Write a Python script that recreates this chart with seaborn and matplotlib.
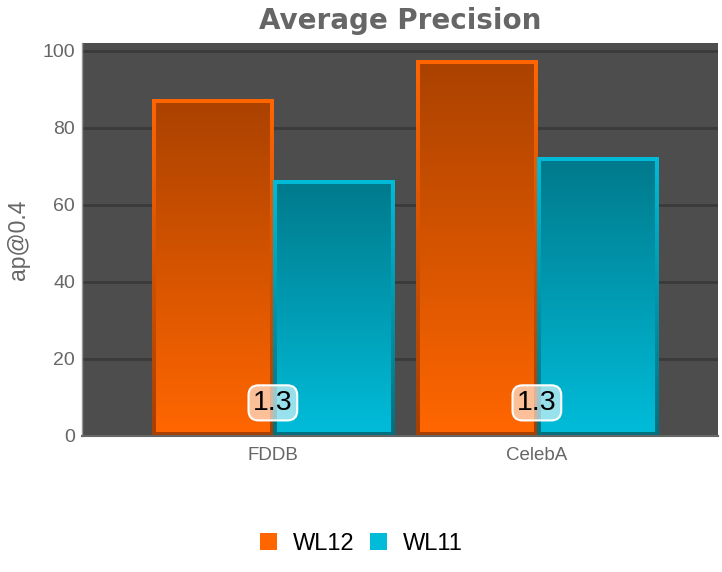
import numpy as np
import pandas as pd
import matplotlib
matplotlib.use("Agg")
import matplotlib.pyplot as plt
from matplotlib.patches import Rectangle, Patch
from matplotlib.colors import LinearSegmentedColormap
import seaborn as sns

categories = ["FDDB", "CelebA"]
series = ["WL12", "WL11"]
wl12 = [87, 97]
wl11 = [66, 72]
group_labels = ["1.3", "1.3"]
label_y = 8.6

sns.set_theme(style="white")
plt.rcParams["font.family"] = ["Liberation Sans", "DejaVu Sans"]

df = pd.DataFrame({
    "dataset": categories * 2,
    "series": [series[0]] * 2 + [series[1]] * 2,
    "value": wl12 + wl11,
})

base = {"WL12": "#ff6600", "WL11": "#00bcd8"}
fill_grad = {"WL12": ("#ab4200", "#ff6600"), "WL11": ("#007a8c", "#00bcd9")}
edge_grad = {"WL12": ("#ff6600", "#a63f00"), "WL11": ("#00bcd9", "#00707f")}

fig = plt.figure(figsize=(7.22, 5.72), dpi=100)
ax = fig.add_axes([82 / 722, 1 - 436 / 572, (718 - 82) / 722, (436 - 43) / 572])
ax.set_facecolor("#4d4d4d")

sns.barplot(data=df, x="dataset", y="value", hue="series", palette=base,
            width=0.917, legend=False, ax=ax, saturation=1, linewidth=0)

ax.set_ylim(0, 102)
ax.set_xlim(-0.723, 1.686)
ax.set_yticks([0, 20, 40, 60, 80, 100])
ax.grid(axis="y", color="#3a3a3a", linewidth=2)
ax.set_axisbelow(True)
ax.tick_params(axis="y", colors="#666666", labelsize=14, length=0, pad=5)
ax.tick_params(axis="x", colors="#666666", labelsize=13.5, length=0, pad=8)
for lab in ax.get_xticklabels() + ax.get_yticklabels():
    lab.set_color("#666666")
ax.set_xlabel("")
ax.set_ylabel("ap@0.4", color="#666666", fontsize=16.5, labelpad=9)
for s in ["top", "right"]:
    ax.spines[s].set_visible(False)
ax.spines["left"].set_color("#999999")
ax.spines["left"].set_linewidth(1)
ax.spines["bottom"].set_color("#666666")
ax.spines["bottom"].set_linewidth(1.5)

fig.canvas.draw()

def grad_image(top, bottom):
    cmap = LinearSegmentedColormap.from_list("g", [bottom, top])
    return cmap(np.linspace(0, 1, 256)[::-1].reshape(-1, 1))

inv = ax.transData.inverted()
edge_px = 4
top_extra_px = 2
for p in list(ax.patches):
    fc = matplotlib.colors.to_hex(p.get_facecolor())
    key = "WL12" if fc == base["WL12"] else "WL11"
    x0, y0 = p.get_x(), p.get_y()
    w, h = p.get_width(), p.get_height()
    if h <= 0:
        continue
    p.set_alpha(0)
    (px0, py0) = ax.transData.transform((x0, y0))
    (px1, py1) = ax.transData.transform((x0 + w, y0 + h))
    _, oy1 = inv.transform((px1, py1 + top_extra_px))
    im = ax.imshow(grad_image(*edge_grad[key]), extent=(x0, x0 + w, y0, oy1),
                   aspect="auto", origin="upper", zorder=2, interpolation="bilinear")
    clip = Rectangle((x0, y0), w, oy1 - y0, transform=ax.transData)
    im.set_clip_path(clip)
    ix0, iy0 = inv.transform((px0 + edge_px, py0 + edge_px))
    ix1, iy1 = inv.transform((px1 - edge_px, py1 + top_extra_px - edge_px))
    im2 = ax.imshow(grad_image(*fill_grad[key]), extent=(ix0, ix1, iy0, iy1),
                    aspect="auto", origin="upper", zorder=3, interpolation="bilinear")
    clip2 = Rectangle((ix0, iy0), ix1 - ix0, iy1 - iy0, transform=ax.transData)
    im2.set_clip_path(clip2)

ax.set_ylim(0, 102)
ax.set_xlim(-0.723, 1.686)

for i, lab in enumerate(group_labels):
    ax.text(i, label_y, lab, ha="center", va="center", fontsize=20.5, color="black", zorder=5,
            bbox=dict(boxstyle="round,pad=0.16,rounding_size=0.35", facecolor=(1, 1, 1, 0.6),
                      edgecolor="white", linewidth=1.5))

ax.text(0.5, 1 + 22 / 393, "Average Precision", transform=ax.transAxes,
        ha="center", va="center", fontsize=20, fontweight="bold", color="#666666",
        family=["DejaVu Sans"])

handles = [Patch(facecolor=base[s], edgecolor="none", label=s) for s in series]
fig.legend(handles=handles, loc="center", bbox_to_anchor=(0.5, 1 - 544 / 572), ncol=2,
           frameon=False, fontsize=17, handlelength=0.75, handleheight=0.75,
           handletextpad=0.65, columnspacing=0.65, labelcolor="black")

fig.savefig("out.png", dpi=100)
